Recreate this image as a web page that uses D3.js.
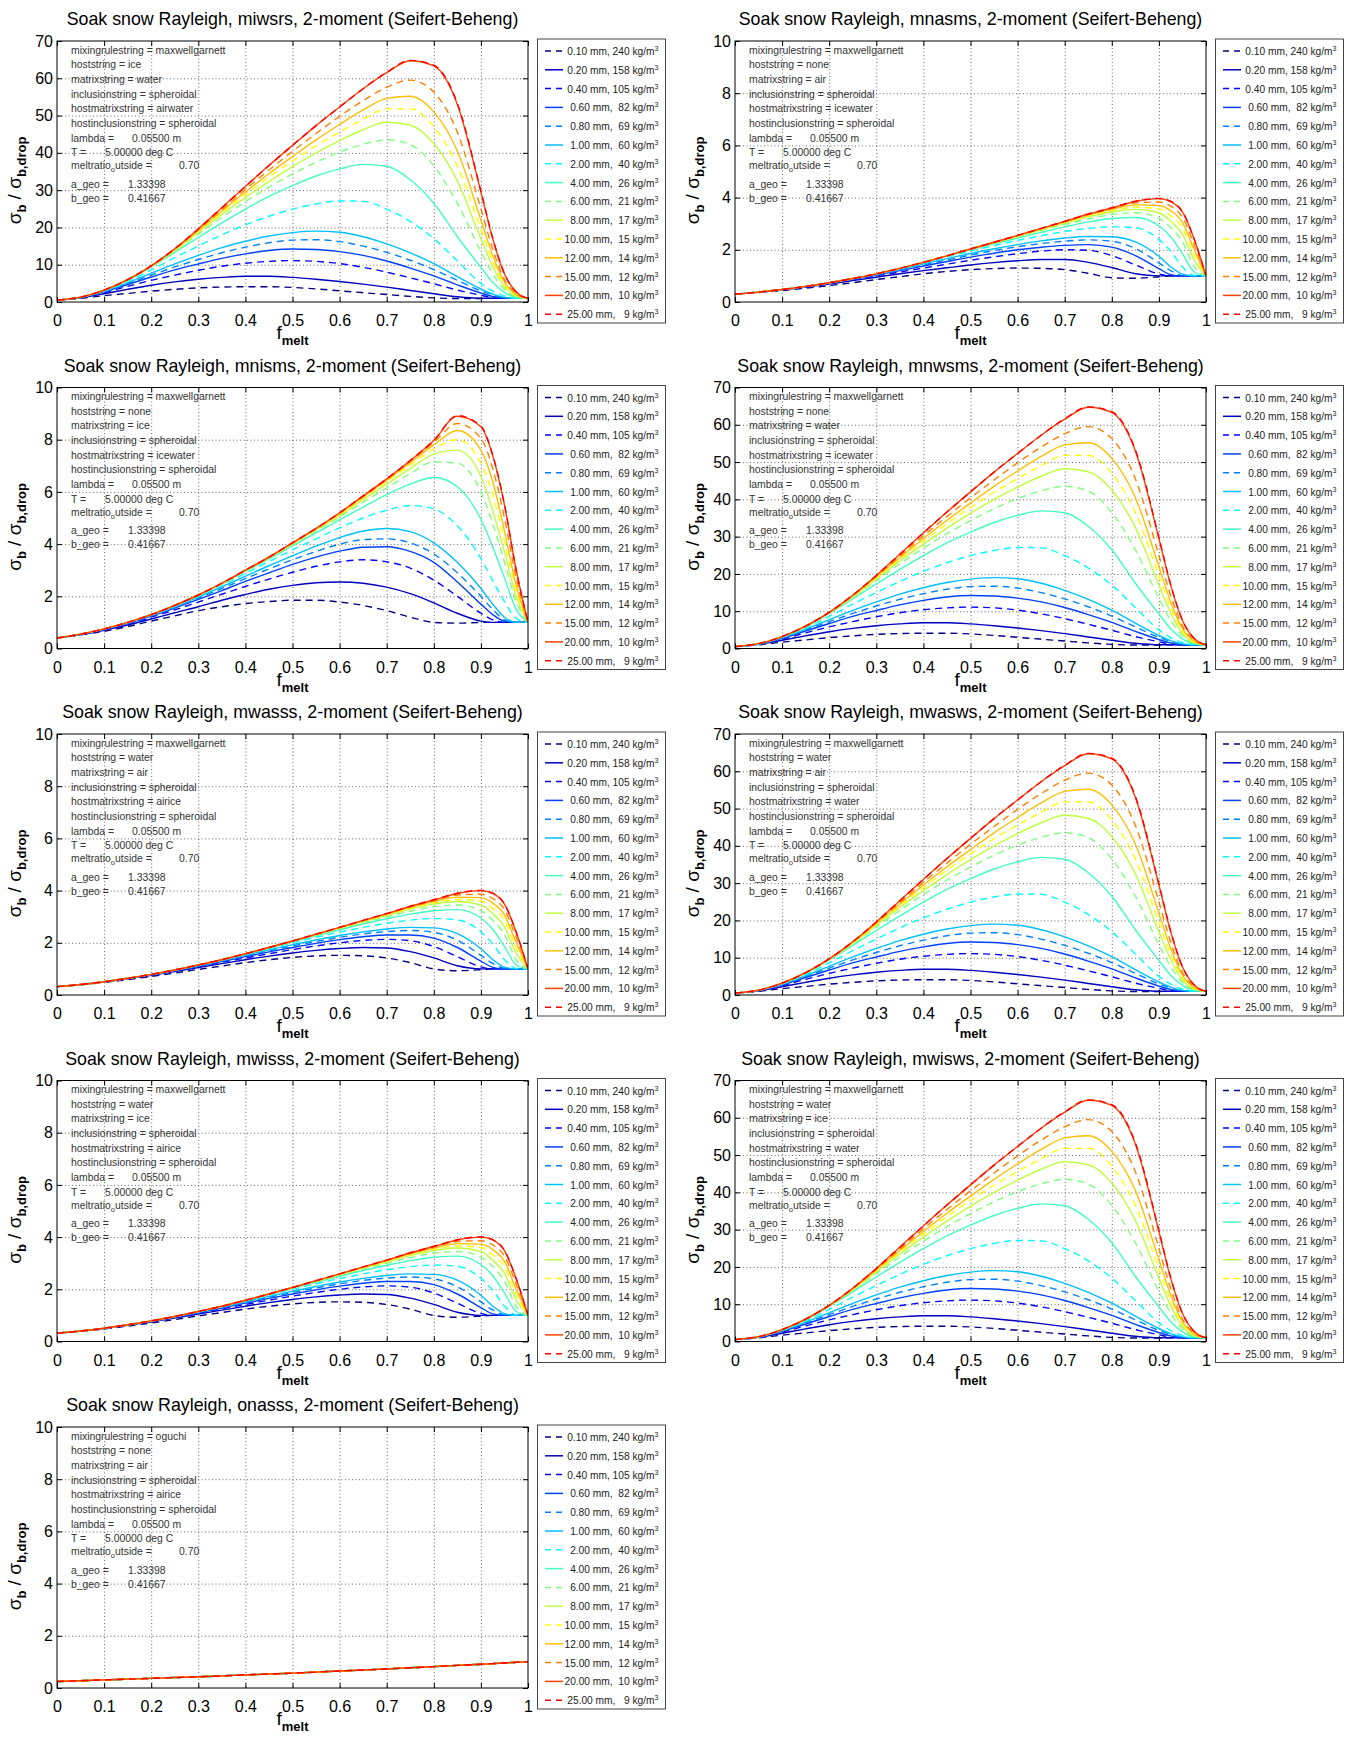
<!DOCTYPE html>
<html>
<head>
<meta charset="utf-8">
<script src="https://cdn.jsdelivr.net/npm/d3@7"></script>
<style>
  body { margin: 0; background: #fff; }
  svg text { font-family: "Liberation Sans", Arial, Helvetica, sans-serif; }
</style>
</head>
<body>
<svg id="fig" width="1354" height="1740"></svg>
<script>
// Melt fraction sample points shared by every curve
const fMelt = [0, 0.05, 0.1, 0.15, 0.2, 0.25, 0.3, 0.35, 0.4, 0.45, 0.5, 0.55, 0.6, 0.65, 0.7, 0.75, 0.8, 0.85, 0.9, 0.925, 0.95, 0.975, 1];

// Particle classes (legend order)
const sizeLabels = [" 0.10 mm, 240 kg/m", " 0.20 mm, 158 kg/m", " 0.40 mm, 105 kg/m", " 0.60 mm,  82 kg/m", " 0.80 mm,  69 kg/m",
  " 1.00 mm,  60 kg/m", " 2.00 mm,  40 kg/m", " 4.00 mm,  26 kg/m", " 6.00 mm,  21 kg/m", " 8.00 mm,  17 kg/m",
  "10.00 mm,  15 kg/m", "12.00 mm,  14 kg/m", "15.00 mm,  12 kg/m", "20.00 mm,  10 kg/m", "25.00 mm,   9 kg/m"];

const xTicks = [0, 0.1, 0.2, 0.3, 0.4, 0.5, 0.6, 0.7, 0.8, 0.9, 1];
const xTickLabels = ["0", "0.1", "0.2", "0.3", "0.4", "0.5", "0.6", "0.7", "0.8", "0.9", "1"];
const yTicksWide = [0, 10, 20, 30, 40, 50, 60, 70];
const yTicksNarrow = [0, 2, 4, 6, 8, 10];

// sigma_b / sigma_b,drop — water-containing matrix (up to ~65)
const ratioWaterMatrix = [
  [0.5, 1.0, 1.7, 2.3, 2.9, 3.4, 3.8, 4.0, 4.1, 4.1, 3.9, 3.5, 3.0, 2.5, 2.0, 1.5, 1.1, 0.95, 0.95, 0.97, 1.0, 1.0, 1.0],
  [0.5, 1.1, 2.2, 3.4, 4.5, 5.4, 6.1, 6.6, 6.9, 6.9, 6.6, 6.1, 5.5, 4.8, 4.0, 3.1, 2.2, 1.4, 1.0, 1.0, 1.0, 1.0, 1.0],
  [0.5, 1.2, 2.5, 4.2, 5.8, 7.2, 8.5, 9.6, 10.4, 10.9, 11.1, 10.9, 10.3, 9.3, 8.0, 6.5, 4.9, 3.2, 1.8, 1.2, 1.0, 1.0, 1.0],
  [0.5, 1.2, 2.7, 4.7, 6.7, 8.6, 10.2, 11.7, 12.9, 13.8, 14.2, 14.1, 13.5, 12.5, 11.0, 9.1, 7.0, 4.6, 2.4, 1.5, 1.05, 1.0, 1.0],
  [0.5, 1.2, 2.8, 5.0, 7.2, 9.4, 11.4, 13.2, 14.7, 15.9, 16.6, 16.7, 16.2, 15.0, 13.3, 11.2, 8.7, 5.8, 3.0, 1.9, 1.15, 1.0, 1.0],
  [0.5, 1.2, 2.9, 5.2, 7.7, 10.2, 12.5, 14.6, 16.3, 17.7, 18.6, 19.0, 18.7, 17.5, 15.6, 13.2, 10.3, 6.8, 3.5, 2.1, 1.25, 1.0, 1.0],
  [0.5, 1.3, 3.0, 5.5, 8.6, 11.9, 15.0, 18.0, 20.7, 23.0, 24.9, 26.3, 27.1, 27.0, 24.9, 21.6, 17.0, 11.0, 5.0, 2.9, 1.6, 1.05, 1.0],
  [0.5, 1.3, 3.1, 5.8, 9.4, 13.3, 17.3, 21.2, 24.9, 28.3, 31.2, 33.8, 35.7, 36.9, 36.4, 32.8, 26.5, 17.5, 9.3, 5.3, 2.6, 1.2, 1.0],
  [0.5, 1.3, 3.2, 5.9, 9.5, 13.7, 18.2, 22.7, 26.9, 30.8, 34.3, 37.5, 40.2, 42.3, 43.5, 42.2, 36.5, 26.5, 13.5, 7.6, 3.4, 1.4, 1.0],
  [0.5, 1.3, 3.2, 6.0, 9.6, 13.9, 18.7, 23.5, 28.0, 32.3, 36.3, 40.0, 43.3, 46.2, 48.2, 47.4, 42.5, 32.5, 17.0, 9.6, 4.1, 1.6, 1.0],
  [0.5, 1.3, 3.2, 6.0, 9.6, 14.0, 19.0, 24.0, 28.8, 33.5, 37.8, 41.9, 45.6, 49.0, 51.8, 51.8, 47.0, 36.5, 19.5, 11.0, 4.7, 1.8, 1.0],
  [0.5, 1.3, 3.2, 6.0, 9.7, 14.1, 19.2, 24.4, 29.5, 34.4, 39.0, 43.5, 47.6, 51.5, 54.6, 55.2, 51.0, 40.5, 22.0, 12.5, 5.3, 2.0, 1.0],
  [0.5, 1.3, 3.2, 6.0, 9.7, 14.2, 19.4, 24.8, 30.2, 35.4, 40.4, 45.2, 49.8, 54.0, 57.6, 59.5, 56.3, 45.5, 25.0, 14.2, 6.0, 2.3, 1.0],
  [0.5, 1.3, 3.2, 6.0, 9.7, 14.3, 19.6, 25.3, 31.0, 36.6, 42.0, 47.3, 52.3, 57.2, 61.5, 64.7, 63.3, 53.0, 29.5, 17.0, 7.5, 2.7, 1.0],
  [0.5, 1.3, 3.2, 6.0, 9.7, 14.3, 19.6, 25.3, 31.0, 36.6, 42.0, 47.3, 52.3, 57.2, 61.6, 64.8, 63.5, 53.3, 29.8, 17.2, 7.6, 2.7, 1.0]
];

// sigma_b / sigma_b,drop — air matrix without host (up to ~4)
const ratioAirMatrix = [
  [0.3, 0.36, 0.44, 0.53, 0.63, 0.74, 0.86, 0.97, 1.08, 1.17, 1.24, 1.28, 1.3, 1.29, 1.24, 1.1, 0.93, 0.91, 0.97, 1.0, 1.0, 1.0, 1.0],
  [0.3, 0.37, 0.46, 0.57, 0.69, 0.82, 0.95, 1.08, 1.2, 1.31, 1.42, 1.51, 1.58, 1.63, 1.63, 1.52, 1.32, 1.08, 1.0, 1.0, 1.0, 1.0, 1.0],
  [0.3, 0.38, 0.47, 0.58, 0.71, 0.85, 1.0, 1.15, 1.3, 1.45, 1.6, 1.73, 1.85, 1.95, 2.0, 1.98, 1.78, 1.42, 1.07, 1.0, 1.0, 1.0, 1.0],
  [0.3, 0.38, 0.47, 0.59, 0.72, 0.87, 1.03, 1.2, 1.38, 1.55, 1.72, 1.87, 2.0, 2.1, 2.17, 2.2, 2.1, 1.78, 1.28, 1.05, 1.0, 1.0, 1.0],
  [0.3, 0.38, 0.48, 0.59, 0.73, 0.88, 1.05, 1.23, 1.42, 1.61, 1.8, 1.97, 2.12, 2.24, 2.33, 2.38, 2.33, 2.05, 1.5, 1.2, 1.02, 1.0, 1.0],
  [0.3, 0.38, 0.48, 0.6, 0.73, 0.89, 1.06, 1.25, 1.46, 1.66, 1.86, 2.04, 2.2, 2.34, 2.45, 2.51, 2.5, 2.3, 1.75, 1.35, 1.07, 1.0, 1.0],
  [0.3, 0.38, 0.48, 0.6, 0.74, 0.9, 1.07, 1.28, 1.5, 1.73, 1.95, 2.16, 2.36, 2.54, 2.7, 2.82, 2.88, 2.85, 2.4, 1.95, 1.35, 1.02, 1.0],
  [0.3, 0.38, 0.48, 0.6, 0.74, 0.9, 1.08, 1.29, 1.51, 1.76, 2.0, 2.23, 2.45, 2.67, 2.88, 3.07, 3.2, 3.24, 2.92, 2.5, 1.85, 1.15, 1.0],
  [0.3, 0.38, 0.48, 0.6, 0.74, 0.9, 1.08, 1.29, 1.52, 1.77, 2.02, 2.26, 2.5, 2.74, 2.97, 3.18, 3.35, 3.42, 3.2, 2.85, 2.3, 1.35, 1.0],
  [0.3, 0.38, 0.48, 0.6, 0.74, 0.9, 1.08, 1.29, 1.52, 1.77, 2.02, 2.27, 2.52, 2.77, 3.02, 3.26, 3.45, 3.55, 3.42, 3.1, 2.6, 1.6, 1.0],
  [0.3, 0.38, 0.48, 0.6, 0.74, 0.9, 1.08, 1.29, 1.52, 1.77, 2.03, 2.28, 2.53, 2.79, 3.05, 3.3, 3.5, 3.63, 3.57, 3.3, 2.85, 1.8, 1.0],
  [0.3, 0.38, 0.48, 0.6, 0.74, 0.9, 1.08, 1.29, 1.52, 1.77, 2.03, 2.28, 2.54, 2.8, 3.07, 3.33, 3.55, 3.72, 3.7, 3.5, 3.05, 2.0, 1.0],
  [0.3, 0.38, 0.48, 0.6, 0.74, 0.9, 1.08, 1.29, 1.52, 1.77, 2.03, 2.29, 2.55, 2.81, 3.08, 3.35, 3.58, 3.8, 3.83, 3.67, 3.25, 2.2, 1.0],
  [0.3, 0.38, 0.48, 0.6, 0.74, 0.9, 1.08, 1.29, 1.52, 1.77, 2.03, 2.29, 2.55, 2.82, 3.09, 3.37, 3.6, 3.85, 3.96, 3.85, 3.45, 2.4, 1.0],
  [0.3, 0.38, 0.48, 0.6, 0.74, 0.9, 1.08, 1.29, 1.52, 1.77, 2.03, 2.29, 2.55, 2.82, 3.09, 3.37, 3.61, 3.86, 3.97, 3.86, 3.46, 2.4, 1.0]
];

// sigma_b / sigma_b,drop — water host around air / ice matrix (up to ~4)
const ratioWaterHost = [
  [0.32, 0.39, 0.48, 0.59, 0.71, 0.84, 0.98, 1.11, 1.24, 1.35, 1.44, 1.5, 1.52, 1.5, 1.42, 1.24, 1.0, 0.93, 0.97, 1.0, 1.0, 1.0, 1.0],
  [0.32, 0.4, 0.5, 0.62, 0.75, 0.9, 1.05, 1.2, 1.35, 1.49, 1.61, 1.71, 1.78, 1.82, 1.8, 1.66, 1.42, 1.12, 1.0, 1.0, 1.0, 1.0, 1.0],
  [0.32, 0.4, 0.5, 0.63, 0.77, 0.92, 1.08, 1.25, 1.42, 1.58, 1.74, 1.88, 2.0, 2.09, 2.13, 2.08, 1.86, 1.47, 1.08, 1.0, 1.0, 1.0, 1.0],
  [0.32, 0.4, 0.5, 0.63, 0.77, 0.93, 1.1, 1.28, 1.47, 1.65, 1.82, 1.98, 2.12, 2.23, 2.3, 2.3, 2.18, 1.82, 1.3, 1.06, 1.0, 1.0, 1.0],
  [0.32, 0.4, 0.51, 0.63, 0.78, 0.94, 1.12, 1.31, 1.5, 1.69, 1.88, 2.05, 2.21, 2.34, 2.43, 2.47, 2.4, 2.1, 1.52, 1.21, 1.02, 1.0, 1.0],
  [0.32, 0.4, 0.51, 0.64, 0.78, 0.95, 1.13, 1.32, 1.53, 1.73, 1.93, 2.11, 2.28, 2.42, 2.53, 2.59, 2.57, 2.35, 1.77, 1.36, 1.07, 1.0, 1.0],
  [0.32, 0.4, 0.51, 0.64, 0.79, 0.95, 1.14, 1.34, 1.56, 1.78, 2.0, 2.21, 2.41, 2.59, 2.75, 2.87, 2.93, 2.88, 2.42, 1.96, 1.36, 1.02, 1.0],
  [0.32, 0.4, 0.51, 0.64, 0.79, 0.96, 1.15, 1.35, 1.57, 1.8, 2.04, 2.27, 2.5, 2.72, 2.92, 3.1, 3.23, 3.27, 2.95, 2.52, 1.86, 1.15, 1.0],
  [0.32, 0.4, 0.51, 0.64, 0.79, 0.96, 1.15, 1.35, 1.58, 1.81, 2.06, 2.3, 2.54, 2.78, 3.0, 3.21, 3.38, 3.45, 3.23, 2.87, 2.31, 1.35, 1.0],
  [0.32, 0.4, 0.51, 0.64, 0.79, 0.96, 1.15, 1.35, 1.58, 1.82, 2.07, 2.31, 2.56, 2.81, 3.05, 3.29, 3.48, 3.58, 3.45, 3.12, 2.62, 1.6, 1.0],
  [0.32, 0.4, 0.51, 0.64, 0.79, 0.96, 1.15, 1.35, 1.58, 1.82, 2.07, 2.32, 2.57, 2.83, 3.08, 3.33, 3.53, 3.66, 3.6, 3.32, 2.87, 1.8, 1.0],
  [0.32, 0.4, 0.51, 0.64, 0.79, 0.96, 1.15, 1.35, 1.58, 1.82, 2.07, 2.32, 2.58, 2.84, 3.1, 3.36, 3.58, 3.75, 3.73, 3.52, 3.07, 2.0, 1.0],
  [0.32, 0.4, 0.51, 0.64, 0.79, 0.96, 1.15, 1.35, 1.58, 1.82, 2.07, 2.33, 2.59, 2.85, 3.11, 3.38, 3.61, 3.83, 3.86, 3.7, 3.27, 2.2, 1.0],
  [0.32, 0.4, 0.51, 0.64, 0.79, 0.96, 1.15, 1.35, 1.58, 1.82, 2.07, 2.33, 2.59, 2.86, 3.12, 3.4, 3.64, 3.89, 4.0, 3.89, 3.48, 2.4, 1.0],
  [0.32, 0.4, 0.51, 0.64, 0.79, 0.96, 1.15, 1.35, 1.58, 1.82, 2.07, 2.33, 2.59, 2.86, 3.12, 3.4, 3.65, 3.9, 4.01, 3.9, 3.49, 2.4, 1.0]
];

// sigma_b / sigma_b,drop — ice matrix without host (up to ~9)
const ratioIceMatrix = [
  [0.4, 0.52, 0.66, 0.84, 1.05, 1.25, 1.45, 1.6, 1.72, 1.8, 1.85, 1.85, 1.78, 1.65, 1.45, 1.2, 1.0, 0.97, 1.0, 1.0, 1.0, 1.0, 1.0],
  [0.4, 0.53, 0.7, 0.9, 1.13, 1.37, 1.6, 1.85, 2.07, 2.27, 2.42, 2.52, 2.55, 2.5, 2.35, 2.1, 1.75, 1.35, 1.05, 1.0, 1.0, 1.0, 1.0],
  [0.4, 0.54, 0.72, 0.94, 1.2, 1.48, 1.78, 2.08, 2.38, 2.66, 2.92, 3.15, 3.32, 3.4, 3.32, 3.08, 2.62, 2.0, 1.35, 1.1, 1.0, 1.0, 1.0],
  [0.4, 0.54, 0.73, 0.96, 1.24, 1.55, 1.88, 2.22, 2.57, 2.9, 3.22, 3.5, 3.73, 3.88, 3.9, 3.72, 3.3, 2.55, 1.7, 1.3, 1.05, 1.0, 1.0],
  [0.4, 0.55, 0.74, 0.97, 1.26, 1.58, 1.93, 2.3, 2.68, 3.05, 3.4, 3.72, 4.0, 4.17, 4.2, 4.05, 3.62, 2.9, 2.0, 1.5, 1.1, 1.0, 1.0],
  [0.4, 0.55, 0.74, 0.98, 1.27, 1.6, 1.97, 2.36, 2.77, 3.17, 3.55, 3.92, 4.25, 4.5, 4.6, 4.48, 4.05, 3.3, 2.3, 1.7, 1.2, 1.0, 1.0],
  [0.4, 0.55, 0.75, 0.99, 1.29, 1.63, 2.01, 2.43, 2.88, 3.33, 3.78, 4.2, 4.62, 5.0, 5.3, 5.48, 5.35, 4.7, 3.45, 2.6, 1.8, 1.15, 1.0],
  [0.4, 0.55, 0.75, 1.0, 1.3, 1.64, 2.03, 2.47, 2.95, 3.43, 3.93, 4.43, 4.93, 5.42, 5.9, 6.3, 6.55, 6.2, 4.95, 3.9, 2.7, 1.5, 1.0],
  [0.4, 0.55, 0.75, 1.0, 1.3, 1.65, 2.04, 2.48, 2.97, 3.46, 3.98, 4.5, 5.04, 5.6, 6.15, 6.7, 7.15, 7.1, 6.0, 4.8, 3.3, 1.8, 1.0],
  [0.4, 0.55, 0.75, 1.0, 1.3, 1.65, 2.05, 2.49, 2.98, 3.48, 4.01, 4.55, 5.1, 5.7, 6.3, 6.9, 7.45, 7.6, 6.6, 5.3, 3.7, 2.0, 1.0],
  [0.4, 0.55, 0.75, 1.0, 1.3, 1.65, 2.05, 2.5, 2.99, 3.49, 4.03, 4.57, 5.14, 5.76, 6.4, 7.03, 7.65, 8.0, 7.1, 5.9, 4.1, 2.2, 1.0],
  [0.4, 0.55, 0.75, 1.0, 1.3, 1.65, 2.05, 2.5, 3.0, 3.5, 4.04, 4.58, 5.17, 5.8, 6.45, 7.12, 7.8, 8.35, 7.6, 6.4, 4.5, 2.4, 1.0],
  [0.4, 0.55, 0.75, 1.0, 1.3, 1.65, 2.05, 2.5, 3.0, 3.5, 4.05, 4.59, 5.19, 5.83, 6.48, 7.17, 7.9, 8.62, 8.05, 6.9, 5.0, 2.7, 1.0],
  [0.4, 0.55, 0.75, 1.0, 1.3, 1.65, 2.05, 2.5, 3.0, 3.5, 4.05, 4.6, 5.2, 5.85, 6.5, 7.2, 7.97, 8.9, 8.5, 7.4, 5.5, 3.0, 1.0],
  [0.4, 0.55, 0.75, 1.0, 1.3, 1.65, 2.05, 2.5, 3.0, 3.5, 4.05, 4.6, 5.2, 5.85, 6.5, 7.2, 7.98, 8.92, 8.52, 7.42, 5.52, 3.0, 1.0]
];

// sigma_b / sigma_b,drop — Oguchi mixing (same for every class)
const ratioOguchi = [0.25, 0.28, 0.31, 0.34, 0.37, 0.40, 0.43, 0.465, 0.50, 0.535, 0.57, 0.61, 0.65, 0.69, 0.73, 0.775, 0.82, 0.865, 0.91, 0.935, 0.96, 0.985, 1.01];

// Panel descriptions, in reading order
const panelCodes = ["miwsrs", "mnasms", "mnisms", "mnwsms", "mwasss", "mwasws", "mwisss", "mwisws", "onasss"];
const mixingRules = ["maxwellgarnett", "maxwellgarnett", "maxwellgarnett", "maxwellgarnett", "maxwellgarnett", "maxwellgarnett", "maxwellgarnett", "maxwellgarnett", "oguchi"];
const hostStrings = ["ice", "none", "none", "none", "water", "water", "water", "water", "none"];
const matrixStrings = ["water", "air", "ice", "water", "air", "air", "ice", "ice", "air"];
const hostMatrixStrings = ["airwater", "icewater", "icewater", "icewater", "airice", "water", "airice", "water", "airice"];
const panelSeries = [
  ratioWaterMatrix, ratioAirMatrix, ratioIceMatrix, ratioWaterMatrix, ratioWaterHost,
  ratioWaterMatrix, ratioWaterHost, ratioWaterMatrix, sizeLabels.map(() => ratioOguchi)
];
const panelYMax = [70, 10, 10, 70, 10, 70, 10, 70, 10];

// ---------- drawing ----------
const svg = d3.select("#fig");
const colLeft = [57, 735];
const plotW = 471, plotH = 261;
const rowTop0 = 41, rowStep = 346.5;

function jet(t) {
  const c = v => Math.max(0, Math.min(1, v));
  const r = c(1.5 - Math.abs(4 * t - 3)), g = c(1.5 - Math.abs(4 * t - 2)), b = c(1.5 - Math.abs(4 * t - 1));
  return d3.rgb(r * 255, g * 255, b * 255).formatHex();
}
const seriesColor = sizeLabels.map((_, i) => jet(i / 16));
const seriesDash = sizeLabels.map((_, i) => (i % 2 === 0 ? "7,5" : null));

panelCodes.forEach((code, idx) => {
  const col = idx % 2, row = Math.floor(idx / 2);
  const left = colLeft[col], top = rowTop0 + row * rowStep;
  const g = svg.append("g").attr("transform", `translate(${left},${top})`);
  const x = d3.scaleLinear().domain([0, 1]).range([0, plotW]);
  const y = d3.scaleLinear().domain([0, panelYMax[idx]]).range([plotH, 0]);
  const yTicks = panelYMax[idx] === 70 ? yTicksWide : yTicksNarrow;

  // title
  g.append("text").attr("x", plotW / 2).attr("y", -16).attr("text-anchor", "middle")
    .attr("font-size", 17.8).attr("fill", "#000")
    .text(`Soak snow Rayleigh, ${code}, 2-moment (Seifert-Beheng)`);

  // dotted grid
  g.append("g").attr("class", "grid")
    .call(d3.axisBottom(x).tickValues(xTicks.slice(1, -1)).tickSize(plotH).tickFormat(""))
    .call(s => s.select(".domain").remove())
    .selectAll("line").attr("stroke", "#444").attr("stroke-dasharray", "1,2.5").attr("stroke-width", 0.8);
  g.append("g").attr("class", "grid").attr("transform", `translate(${plotW},0)`)
    .call(d3.axisLeft(y).tickValues(yTicks.slice(1, -1)).tickSize(plotW).tickFormat(""))
    .call(s => s.select(".domain").remove())
    .selectAll("line").attr("stroke", "#444").attr("stroke-dasharray", "1,2.5").attr("stroke-width", 0.8);

  // annotation block
  const ann = g.append("g").attr("font-size", 10.4).attr("fill", "#333");
  const tx = 14;
  const simple = [
    [12.5, `mixingrulestring = ${mixingRules[idx]}`],
    [27.2, `hoststring = ${hostStrings[idx]}`],
    [41.8, `matrixstring = ${matrixStrings[idx]}`],
    [56.5, `inclusionstring = spheroidal`],
    [71.2, `hostmatrixstring = ${hostMatrixStrings[idx]}`],
    [85.8, `hostinclusionstring = spheroidal`],
    [100.5, `lambda =`],
    [115.2, `T =`],
    [146.5, `a_geo =`],
    [160.8, `b_geo =`]
  ];
  simple.forEach(([dy, s]) => ann.append("text").attr("x", tx).attr("y", dy).text(s));
  ann.append("text").attr("x", tx + 61).attr("y", 100.5).text("0.05500 m");
  ann.append("text").attr("x", tx + 34).attr("y", 115.2).text("5.00000 deg C");
  ann.append("text").attr("x", tx + 57).attr("y", 146.5).text("1.33398");
  ann.append("text").attr("x", tx + 57).attr("y", 160.8).text("0.41667");
  const mr = ann.append("text").attr("x", tx).attr("y", 128.2);
  mr.append("tspan").text("meltratio");
  mr.append("tspan").attr("font-size", 7.5).attr("dy", 3).text("o");
  mr.append("tspan").attr("dy", -3).text("utside =");
  ann.append("text").attr("x", tx + 108).attr("y", 128.2).text("0.70");

  // curves
  const clipId = `clip${idx}`;
  g.append("clipPath").attr("id", clipId).append("rect").attr("width", plotW).attr("height", plotH);
  const line = d3.line().x((d, i) => x(fMelt[i])).y(d => y(d)).curve(d3.curveMonotoneX);
  const curves = g.append("g").attr("clip-path", `url(#${clipId})`);
  panelSeries[idx].forEach((vals, i) => {
    curves.append("path").attr("d", line(vals)).attr("fill", "none")
      .attr("stroke", seriesColor[i]).attr("stroke-width", 1.4)
      .attr("stroke-dasharray", seriesDash[i]);
  });

  // axes with inward ticks on all sides
  const xa = g.append("g").attr("transform", `translate(0,${plotH})`)
    .call(d3.axisBottom(x).tickValues(xTicks).tickFormat((d, i) => xTickLabels[i])
      .tickSizeInner(-5).tickSizeOuter(0).tickPadding(13));
  const ya = g.append("g")
    .call(d3.axisLeft(y).tickValues(yTicks).tickFormat(d3.format("d"))
      .tickSizeInner(-5).tickSizeOuter(0).tickPadding(4));
  const xt = g.append("g").call(d3.axisTop(x).tickValues(xTicks).tickFormat("").tickSizeInner(-5).tickSizeOuter(0));
  const yr = g.append("g").attr("transform", `translate(${plotW},0)`)
    .call(d3.axisRight(y).tickValues(yTicks).tickFormat("").tickSizeInner(-5).tickSizeOuter(0));
  [xa, ya, xt, yr].forEach(a => {
    a.select(".domain").remove();
    a.selectAll("line").attr("stroke", "#000");
    a.selectAll("text").attr("font-size", 16).attr("fill", "#000")
      .attr("font-family", "'Liberation Sans', Arial, sans-serif");
  });
  g.append("rect").attr("width", plotW).attr("height", plotH)
    .attr("fill", "none").attr("stroke", "#000").attr("stroke-width", 1);

  // axis labels
  const xl = g.append("text").attr("x", plotW / 2).attr("y", plotH + 37).attr("text-anchor", "middle").attr("fill", "#000");
  xl.append("tspan").attr("font-size", 19).text("f");
  xl.append("tspan").attr("font-size", 13).attr("font-weight", "bold").attr("dy", 6).text("melt");

  const yl = g.append("text").attr("transform", `translate(-36,${plotH / 2 + 9}) rotate(-90)`)
    .attr("text-anchor", "middle").attr("fill", "#000");
  yl.append("tspan").attr("font-size", 19).text("σ");
  yl.append("tspan").attr("font-size", 13).attr("font-weight", "bold").attr("dy", 5).text("b");
  yl.append("tspan").attr("font-size", 19).attr("dy", -5).style("white-space", "pre").text(" / σ");
  yl.append("tspan").attr("font-size", 13).attr("font-weight", "bold").attr("dy", 5).text("b,drop");

  // legend
  const lx = plotW + 9.5, ly = -2;
  const lg = g.append("g").attr("transform", `translate(${lx},${ly})`);
  lg.append("rect").attr("width", 128).attr("height", 284).attr("fill", "#fff")
    .attr("stroke", "#444").attr("stroke-width", 1);
  sizeLabels.forEach((lab, i) => {
    const cy = 12 + i * 18.8;
    lg.append("line").attr("x1", 7.5).attr("x2", 25.5).attr("y1", cy).attr("y2", cy)
      .attr("stroke", seriesColor[i]).attr("stroke-width", 1.5)
      .attr("stroke-dasharray", seriesDash[i] ? "6,5" : null);
    const t = lg.append("text").attr("x", 121).attr("y", cy + 4).attr("text-anchor", "end")
      .attr("font-size", 10.2).attr("fill", "#222").attr("xml:space", "preserve").style("white-space", "pre");
    t.append("tspan").text(lab);
    t.append("tspan").attr("font-size", 7.2).attr("dy", -4).text("3");
  });
});
</script>
</body>
</html>
